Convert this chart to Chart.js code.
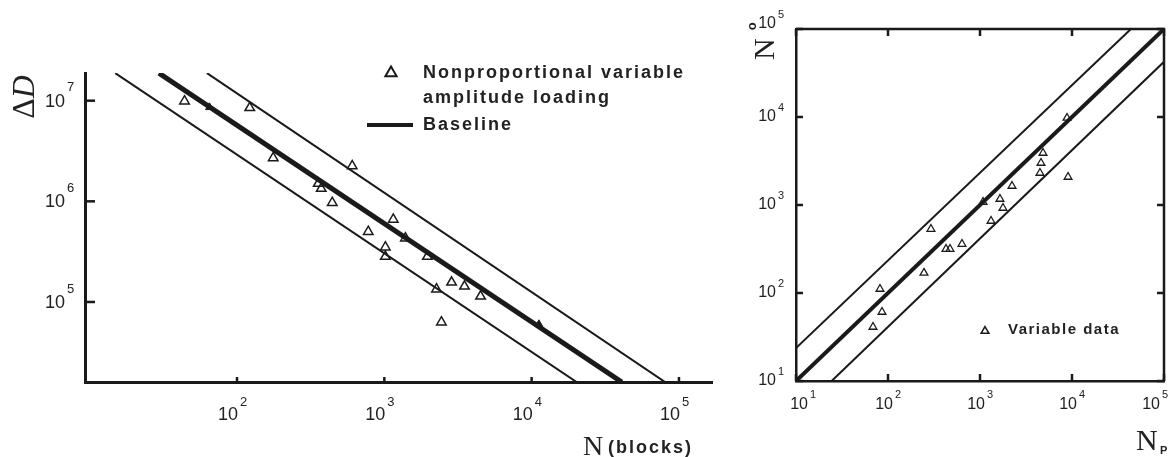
<!DOCTYPE html>
<html>
<head>
<meta charset="utf-8">
<script src="https://cdn.jsdelivr.net/npm/chart.js@4/dist/chart.umd.min.js"></script>
<style>
  html, body { margin: 0; padding: 0; background: #fff; }
  #wrap { position: relative; width: 1176px; height: 457px; overflow: hidden; }
  #left { position: absolute; left: 0; top: 0; }
  #right { position: absolute; left: 740px; top: 0; }
</style>
</head>
<body>
<div id="wrap">
  <canvas id="left" width="740" height="457"></canvas>
  <canvas id="right" width="436" height="457"></canvas>
</div>
<script>
// left panel: damage parameter vs. life in blocks
const leftN = [44, 122, 176, 605, 356, 373, 443, 778, 1150, 1390, 1016, 1016, 1960, 2260, 2860, 3500, 4500, 2440];
const leftD = [9.9e6, 8.5e6, 2.7e6, 2.25e6, 1.5e6, 1.34e6, 9.7e5, 5.0e5, 6.6e5, 4.3e5, 3.5e5, 2.83e5, 2.83e5, 1.34e5, 1.57e5, 1.43e5, 1.14e5, 6.3e4];
const dotN = [65, 11200];
const dotD = [8.6e6, 6.0e4];
const baseN = [29.5, 40900];
const upperN = [62.5, 80500];
const lowerN = [14.9, 20200];
const bandD = [1.88e7, 1.6e4];
const leftTicksN = [1e2, 1e3, 1e4, 1e5];
const leftTicksD = [1e5, 1e6, 1e7];

// right panel: observed vs. predicted life
const rightNp = [68.7, 86.1, 81.8, 246, 293, 427, 472, 637, 1318, 1778, 1079, 1648, 2228, 4487, 4603, 4842, 8830, 9060];
const rightNo = [41.1, 60.8, 111, 169, 533, 316, 316, 360, 658, 925, 1081, 1170, 1644, 2311, 3000, 3897, 9750, 2080];
const diag = [10, 1e5];
const upperNp = [10, 43700];
const upperNo = [23.7, 1e5];
const lowerNp = [24.4, 1e5];
const lowerNo = [10, 42400];
const rightTicks = [1e1, 1e2, 1e3, 1e4, 1e5];

const INK = '#1a1a1a';
const SANS = '"Liberation Sans", Arial, sans-serif';
const SERIF = '"Liberation Serif", "Times New Roman", serif';

const pts = (xs, ys) => xs.map((x, i) => ({ x: x, y: ys[i] }));

function lineSet(xs, ys, width) {
  return {
    type: 'line',
    data: pts(xs, ys),
    borderColor: INK,
    borderWidth: width,
    pointRadius: 0,
    showLine: true,
    fill: false
  };
}

// "10" with the exponent raised; x is the right edge of "10"
function powLabel(ctx, exp, x, y, size, supSize, supDy) {
  ctx.font = size + 'px ' + SANS;
  ctx.textAlign = 'right';
  ctx.textBaseline = 'middle';
  ctx.fillText('10', x, y);
  ctx.font = supSize + 'px ' + SANS;
  ctx.textAlign = 'left';
  ctx.fillText(String(exp), x + 2, y + supDy);
}

function triangle(ctx, x, y, r, lw) {
  ctx.beginPath();
  ctx.moveTo(x, y - r);
  ctx.lineTo(x + r * 0.866, y + r * 0.5);
  ctx.lineTo(x - r * 0.866, y + r * 0.5);
  ctx.closePath();
  ctx.lineWidth = lw;
  ctx.stroke();
}

// axes carry no built-in ticks or labels, only the border line
const logScale = (min, max, borderWidth) => ({
  type: 'logarithmic',
  min: min,
  max: max,
  grid: { display: false, drawTicks: false },
  ticks: { display: false },
  border: { display: true, color: INK, width: borderWidth }
});

const leftDecor = {
  id: 'leftDecor',
  afterDraw(chart) {
    const { ctx, chartArea: a, scales: { x, y } } = chart;
    ctx.save();
    ctx.strokeStyle = INK;
    ctx.fillStyle = '#222';
    ctx.lineWidth = 2.5;
    leftTicksN.forEach(v => {
      const px = x.getPixelForValue(v);
      ctx.beginPath(); ctx.moveTo(px, a.bottom); ctx.lineTo(px, a.bottom - 5); ctx.stroke();
      powLabel(ctx, Math.round(Math.log10(v)), px + 1, 415, 18, 13, -13);
    });
    leftTicksD.forEach(v => {
      const py = y.getPixelForValue(v);
      ctx.lineWidth = 2.5;
      ctx.beginPath(); ctx.moveTo(a.left, py); ctx.lineTo(a.left + 10, py); ctx.stroke();
      powLabel(ctx, Math.round(Math.log10(v)), 65, py + 1, 18, 13, -14);
    });

    // axis titles
    ctx.save();
    ctx.translate(26, 97);
    ctx.rotate(-Math.PI / 2);
    ctx.textBaseline = 'middle';
    ctx.textAlign = 'left';
    ctx.font = '32px ' + SERIF;
    const dw = ctx.measureText('\u0394').width;
    ctx.font = 'italic 32px ' + SERIF;
    const w2 = ctx.measureText('D').width;
    ctx.font = '32px ' + SERIF;
    ctx.fillText('\u0394', -(dw + w2) / 2, 0);
    ctx.font = 'italic 32px ' + SERIF;
    ctx.fillText('D', -(dw + w2) / 2 + dw, 0);
    ctx.restore();

    ctx.textAlign = 'left';
    ctx.textBaseline = 'alphabetic';
    ctx.font = '28px ' + SERIF;
    ctx.fillText('N', 583, 455);
    ctx.font = 'bold 18px ' + SANS;
    ctx.letterSpacing = '2px';
    ctx.fillText('(blocks)', 608, 453);

    // legend
    ctx.font = 'bold 18px ' + SANS;
    ctx.letterSpacing = '2px';
    ctx.textBaseline = 'middle';
    triangle(ctx, 391, 73, 6.5, 2);
    ctx.fillText('Nonproportional variable', 423, 73);
    ctx.fillText('amplitude loading', 423, 98);
    ctx.lineWidth = 4;
    ctx.beginPath(); ctx.moveTo(367, 125); ctx.lineTo(413, 125); ctx.stroke();
    ctx.fillText('Baseline', 423, 125);
    ctx.restore();
  }
};

new Chart(document.getElementById('left'), {
  type: 'scatter',
  data: {
    datasets: [
      {
        data: pts(leftN, leftD),
        pointStyle: 'triangle',
        pointRadius: 5.5,
        borderColor: INK,
        borderWidth: 1.5,
        backgroundColor: 'rgba(255,255,255,0)'
      },
      {
        data: pts(dotN, dotD),
        pointStyle: 'triangle',
        pointRadius: 4.5,
        borderColor: INK,
        backgroundColor: INK
      },
      lineSet(baseN, bandD, 5),
      lineSet(upperN, bandD, 2),
      lineSet(lowerN, bandD, 2)
    ]
  },
  options: {
    responsive: false,
    animation: false,
    devicePixelRatio: 1,
    layout: { padding: { left: 85, top: 73, right: 28, bottom: 75 } },
    plugins: { legend: { display: false }, tooltip: { enabled: false } },
    scales: {
      x: logScale(9.29, 167600, 3),
      y: logScale(16030, 1.884e7, 3)
    }
  },
  plugins: [leftDecor]
});

const rightDecor = {
  id: 'rightDecor',
  afterDraw(chart) {
    const { ctx, chartArea: a, scales: { x, y } } = chart;
    ctx.save();
    ctx.strokeStyle = INK;
    ctx.fillStyle = '#222';
    ctx.lineWidth = 2.5;
    // top and right sides of the frame
    ctx.beginPath();
    ctx.moveTo(a.left, a.top); ctx.lineTo(a.right, a.top); ctx.lineTo(a.right, a.bottom);
    ctx.stroke();
    rightTicks.forEach(v => {
      const px = x.getPixelForValue(v);
      const py = y.getPixelForValue(v);
      ctx.lineWidth = 2.5;
      ctx.beginPath();
      ctx.moveTo(px, a.bottom); ctx.lineTo(px, a.bottom - 7);
      ctx.moveTo(px, a.top); ctx.lineTo(px, a.top + 7);
      ctx.moveTo(a.left, py); ctx.lineTo(a.left + 7, py);
      ctx.moveTo(a.right, py); ctx.lineTo(a.right - 7, py);
      ctx.stroke();
      const e = Math.round(Math.log10(v));
      let nx = px + 5;
      if (v === rightTicks[0]) nx += 7;
      if (v === rightTicks[rightTicks.length - 1]) nx -= 9;
      powLabel(ctx, e, nx, 405, 16, 11, -10);
      powLabel(ctx, e, 36, v === rightTicks[rightTicks.length - 1] ? py - 5 : py, 16, 11, -9);
    });

    // axis titles
    ctx.save();
    ctx.translate(34, 60);
    ctx.rotate(-Math.PI / 2);
    ctx.textAlign = 'left';
    ctx.textBaseline = 'alphabetic';
    ctx.font = '30px ' + SERIF;
    ctx.fillText('N', 0, 0);
    const nw = ctx.measureText('N').width;
    ctx.font = 'bold 13px ' + SANS;
    ctx.fillText('o', nw + 8, -18);
    ctx.restore();

    ctx.textAlign = 'left';
    ctx.textBaseline = 'alphabetic';
    ctx.font = '30px ' + SERIF;
    ctx.fillText('N', 396, 450);
    ctx.font = 'bold 11px ' + SANS;
    ctx.fillText('P', 420, 454);

    // legend
    triangle(ctx, 245, 331, 4.5, 1.5);
    ctx.font = 'bold 15px ' + SANS;
    ctx.letterSpacing = '1.5px';
    ctx.textBaseline = 'middle';
    ctx.fillText('Variable data', 268, 330);
    ctx.restore();
  }
};

new Chart(document.getElementById('right'), {
  type: 'scatter',
  data: {
    datasets: [
      {
        data: pts(rightNp, rightNo),
        pointStyle: 'triangle',
        pointRadius: 4.5,
        borderColor: INK,
        borderWidth: 1.3,
        backgroundColor: 'rgba(255,255,255,0)'
      },
      lineSet(diag, diag, 4),
      lineSet(upperNp, upperNo, 2),
      lineSet(lowerNp, lowerNo, 2)
    ]
  },
  options: {
    responsive: false,
    animation: false,
    devicePixelRatio: 1,
    layout: { padding: { left: 56, top: 29, right: 12, bottom: 76 } },
    plugins: { legend: { display: false }, tooltip: { enabled: false } },
    scales: {
      x: logScale(10, 1e5, 2.5),
      y: logScale(10, 1e5, 2.5)
    }
  },
  plugins: [rightDecor]
});
</script>
</body>
</html>
